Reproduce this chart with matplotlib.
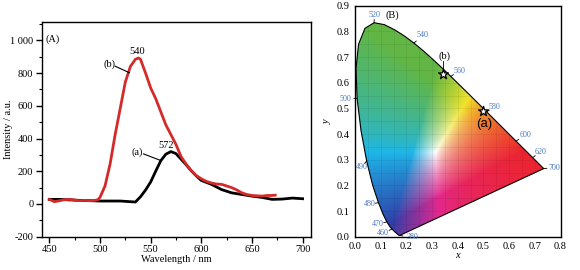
import numpy as np
import matplotlib
matplotlib.use("Agg")
import matplotlib.pyplot as plt
from matplotlib.patches import Polygon
from matplotlib.ticker import MultipleLocator

plt.rcParams['font.family'] = ['Liberation Serif', 'DejaVu Serif']

# ---------------- data: panel A ----------------
wl_a = [450, 460, 470, 480, 490, 500, 510, 520, 530, 535, 540, 545, 550, 555, 560, 565, 570,
        575, 580, 585, 590, 595, 600, 610, 620, 630, 640, 650, 660, 670, 680, 690, 700]
int_a = [28, 28, 25, 22, 20, 18, 18, 18, 14, 12, 44, 85, 134, 200, 264, 304, 320,
         308, 274, 240, 204, 172, 144, 120, 88, 68, 58, 48, 40, 28, 30, 36, 32]

wl_b = [450, 455, 460, 465, 470, 475, 480, 485, 490, 495, 498, 500, 505, 510, 515, 520, 525,
        530, 535, 538, 540, 545, 550, 555, 560, 565, 570, 575, 580, 585, 590, 595, 600,
        605, 610, 615, 620, 625, 630, 635, 640, 645, 650, 655, 660, 665, 670, 673]
int_b = [28, 14, 20, 26, 28, 24, 20, 22, 20, 22, 26, 40, 110, 244, 424, 584, 744,
         840, 884, 892, 884, 800, 710, 644, 564, 484, 424, 364, 290, 244, 204, 174, 154,
         138, 128, 122, 120, 110, 100, 86, 68, 58, 52, 50, 48, 52, 52, 54]

y_ticks = [-200, 0, 200, 400, 600, 800, 1000]
y_ticklabels = ["-200", "0", "200", "400", "600", "800", "1 000"]
x_ticks = [450, 500, 550, 600, 650, 700]

# ---------------- data: panel B ----------------
locus_nm = list(range(380, 705, 5))
locus_x = [0.1741, 0.1740, 0.1738, 0.1736, 0.1733, 0.1730, 0.1726, 0.1721, 0.1714, 0.1703,
           0.1689, 0.1669, 0.1644, 0.1611, 0.1566, 0.1510, 0.1440, 0.1355, 0.1241, 0.1096,
           0.0913, 0.0687, 0.0454, 0.0235, 0.0082, 0.0039, 0.0139, 0.0389, 0.0743, 0.1142,
           0.1547, 0.1929, 0.2296, 0.2658, 0.3016, 0.3373, 0.3731, 0.4087, 0.4441, 0.4788,
           0.5125, 0.5448, 0.5752, 0.6029, 0.6270, 0.6482, 0.6658, 0.6801, 0.6915, 0.7006,
           0.7079, 0.7140, 0.7190, 0.7230, 0.7260, 0.7283, 0.7300, 0.7311, 0.7320, 0.7327,
           0.7334, 0.7340, 0.7344, 0.7346, 0.7347]
locus_y = [0.0050, 0.0050, 0.0049, 0.0049, 0.0048, 0.0048, 0.0048, 0.0048, 0.0051, 0.0058,
           0.0069, 0.0086, 0.0109, 0.0138, 0.0177, 0.0227, 0.0297, 0.0399, 0.0578, 0.0868,
           0.1327, 0.2007, 0.2950, 0.4127, 0.5384, 0.6548, 0.7502, 0.8120, 0.8338, 0.8262,
           0.8059, 0.7816, 0.7543, 0.7243, 0.6923, 0.6589, 0.6245, 0.5896, 0.5547, 0.5202,
           0.4866, 0.4544, 0.4242, 0.3965, 0.3725, 0.3514, 0.3340, 0.3197, 0.3083, 0.2993,
           0.2920, 0.2859, 0.2809, 0.2770, 0.2740, 0.2717, 0.2700, 0.2689, 0.2680, 0.2673,
           0.2666, 0.2660, 0.2656, 0.2654, 0.2653]
label_nm = [380, 460, 470, 480, 490, 500, 520, 540, 560, 580, 600, 620, 700]
sample_names = ["(a)", "(b)"]
sample_x = [0.497, 0.344]
sample_y = [0.491, 0.634]

# ---------------- figure ----------------
W, H = 580, 270
fig = plt.figure(figsize=(W / 100, H / 100), dpi=100)

def ax_rect(l, t, r, b):
    return [l / W, 1 - b / H, (r - l) / W, (b - t) / H]

# ---- Panel A ----
ax1 = fig.add_axes(ax_rect(41.7, 22, 310.7, 236.7))
ax1.plot(wl_a, int_a, color='black', lw=2.0, solid_joinstyle='round')
ax1.plot(wl_b, int_b, color='#d42a2a', lw=2.0, solid_joinstyle='round')
ax1.set_xlim(442.5, 708)
ax1.set_ylim(-200, 1112)
ax1.set_yticks(y_ticks)
ax1.set_yticklabels(y_ticklabels)
ax1.set_xticks(x_ticks)
ax1.xaxis.set_minor_locator(MultipleLocator(25))
ax1.yaxis.set_minor_locator(MultipleLocator(100))
ax1.tick_params(axis='both', which='major', direction='out', length=4, width=1.0,
                labelsize=7.5, pad=2)
ax1.tick_params(axis='both', which='minor', direction='out', length=2.5, width=0.8)
for s in ax1.spines.values():
    s.set_linewidth(1.0)
ax1.set_xlabel("Wavelength / nm", fontsize=7.5, labelpad=1)
ax1.set_ylabel("Intensity / a.u.", fontsize=7.5)
ax1.yaxis.set_label_coords(-0.108, 0.5)
ax1.text(446, 1005, "(A)", fontsize=7.5, va='center', ha='left')
ax1.text(537, 930, "540", fontsize=7.5, ha='center', va='center')
ax1.text(565, 355, "572", fontsize=7.5, ha='center', va='center')
ax1.text(509, 852, "(b)", fontsize=7.5, ha='center', va='center')
ax1.plot([515, 529], [842, 802], color='black', lw=0.8)
ax1.text(537, 314, "(a)", fontsize=7.5, ha='center', va='center')
ax1.plot([543, 559], [306, 268], color='black', lw=0.8)

# ---- Panel B ----
ax2 = fig.add_axes(ax_rect(355, 5.7, 560.5, 236.7))
ax2.set_xlim(0, 0.8)
ax2.set_ylim(0, 0.9)

# chromaticity colours
nx, ny = 500, 560
gx = np.linspace(0, 0.8, nx)
gy = np.linspace(0, 0.9, ny)
XX, YY = np.meshgrid(gx, gy)
YYs = np.where(YY < 1e-4, 1e-4, YY)
Xc = XX / YYs
Yc = np.ones_like(XX)
Zc = (1 - XX - YY) / YYs
M = np.array([[3.2406, -1.5372, -0.4986],
              [-0.9689, 1.8758, 0.0415],
              [0.0557, -0.2040, 1.0570]])
rgb = np.stack([M[i, 0] * Xc + M[i, 1] * Yc + M[i, 2] * Zc for i in range(3)], axis=-1)
rgb = np.clip(rgb, 0, None)
rgb = rgb / np.maximum(rgb.max(axis=-1, keepdims=True), 1e-9)
rgb = np.clip(rgb, 0, 1) ** 0.8

# trilinear mapping onto a print-like palette (cube corners)
corners = {
    (0, 0, 0): (0, 0, 0),
    (1, 0, 0): (236, 36, 48),
    (0, 1, 0): (98, 182, 68),
    (0, 0, 1): (48, 62, 168),
    (0, 1, 1): (30, 182, 232),
    (1, 0, 1): (226, 40, 142),
    (1, 1, 0): (242, 228, 44),
    (1, 1, 1): (255, 255, 255),
}
r, g, b = rgb[..., 0:1], rgb[..., 1:2], rgb[..., 2:3]
out = np.zeros_like(rgb)
for (cr, cg, cb), col in corners.items():
    w = (r if cr else 1 - r) * (g if cg else 1 - g) * (b if cb else 1 - b)
    out += w * (np.array(col) / 255.0)
out = np.clip(out, 0, 1)

poly_pts = np.column_stack([locus_x, locus_y])
patch = Polygon(poly_pts, closed=True, facecolor='none', edgecolor='none')
ax2.add_patch(patch)
im = ax2.imshow(out, extent=(0, 0.8, 0, 0.9), origin='lower', aspect='auto',
                interpolation='bilinear', zorder=1)
im.set_clip_path(patch)

# faint grid inside locus
for v in np.arange(0.05, 0.8, 0.05):
    l = ax2.axvline(v, color='black', alpha=0.07, lw=0.6, zorder=2)
    l.set_clip_path(patch)
for v in np.arange(0.05, 0.9, 0.05):
    l = ax2.axhline(v, color='black', alpha=0.07, lw=0.6, zorder=2)
    l.set_clip_path(patch)

ax2.add_patch(Polygon(poly_pts, closed=True, facecolor='none', edgecolor='black',
                      lw=0.8, zorder=3))

# wavelength labels
label_offsets = {380: (0.048, -0.008), 460: (-0.036, -0.017), 470: (-0.037, -0.009),
                 480: (-0.035, -0.006), 490: (-0.019, -0.022), 500: (-0.044, -0.002),
                 520: (0.001, 0.031), 540: (0.035, 0.032), 560: (0.032, 0.023),
                 580: (0.032, 0.02), 600: (0.037, 0.024), 620: (0.032, 0.023),
                 700: (0.043, 0.004)}
for nm in label_nm:
    i = locus_nm.index(nm)
    px, py = locus_x[i], locus_y[i]
    dx, dy = label_offsets[nm]
    norm = np.hypot(dx, dy)
    ax2.plot([px, px + 0.012 * dx / norm], [py, py + 0.012 * dy / norm],
             color='black', lw=0.6, zorder=4, clip_on=False)
    ax2.text(px + dx, py + dy, str(nm), fontsize=5.8, color='#4a78c4',
             ha='center', va='center', zorder=5, clip_on=False)

# samples
ax2.scatter(sample_x, sample_y, marker='*', s=55, facecolor='white', edgecolor='black',
            linewidth=0.9, zorder=6)
ax2.text(sample_x[0] + 0.006, sample_y[0] - 0.05, sample_names[0], fontsize=9.5,
         family=['Liberation Sans', 'DejaVu Sans'], ha='center', va='center', zorder=6)
ax2.text(sample_x[1] + 0.006, sample_y[1] + 0.07, sample_names[1], fontsize=7.5,
         ha='center', va='center', zorder=6)
ax2.plot([sample_x[1], sample_x[1]], [sample_y[1] + 0.012, sample_y[1] + 0.05],
         color='black', lw=0.6, zorder=6)
ax2.text(0.146, 0.864, "(B)", fontsize=7.5, ha='center', va='center')

ax2.set_xticks(np.arange(0, 0.81, 0.1))
ax2.set_yticks(np.arange(0, 0.91, 0.1))
ax2.set_xticklabels([f"{v:.1f}" for v in np.arange(0, 0.81, 0.1)])
ax2.set_yticklabels([f"{v:.1f}" for v in np.arange(0, 0.91, 0.1)])
ax2.tick_params(axis='both', length=0, labelsize=7.5, pad=4)
for s in ax2.spines.values():
    s.set_linewidth(1.0)
ax2.set_xlabel("x", fontsize=7.5, style='italic', labelpad=0)
ax2.set_ylabel("y", fontsize=7.5, style='italic', labelpad=3)

fig.savefig("out.png", dpi=100)
